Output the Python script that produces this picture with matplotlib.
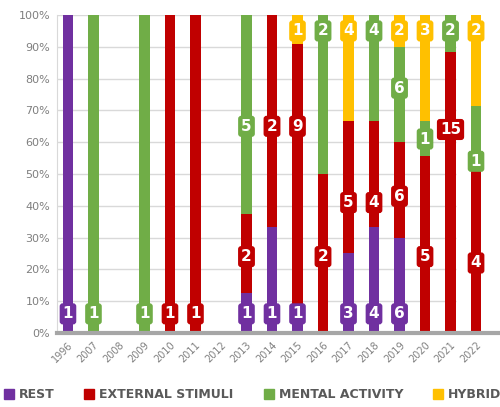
import matplotlib.pyplot as plt
import numpy as np
from matplotlib.patches import Patch

years = ['1996', '2007', '2008', '2009', '2010', '2011', '2012', '2013', '2014',
         '2015', '2016', '2017', '2018', '2019', '2020', '2021', '2022']
series = ['REST', 'EXTERNAL STIMULI', 'MENTAL ACTIVITY', 'HYBRID']
rest     = [1, 0, 0, 0, 0, 0, 0, 1, 1, 1, 0, 3, 4, 6, 0, 0, 0]
external = [0, 0, 0, 0, 1, 1, 0, 2, 2, 9, 2, 5, 4, 6, 5, 15, 4]
mental   = [0, 1, 0, 1, 0, 0, 0, 5, 0, 0, 2, 0, 4, 6, 1, 2, 1]
hybrid   = [0, 0, 0, 0, 0, 0, 0, 0, 0, 1, 0, 4, 0, 2, 3, 0, 2]
colors = ['#7030A0', '#C00000', '#70AD47', '#FFC000']

# where each data label sits on the 0-100% axis (None = no label)
label_pos = [
    [6, None, None, None, None, None, None, 6, 6, 6, None, 6, 6, 6, None, None, None],
    [None, None, None, None, 6, 6, None, 24, 65, 65, 24, 41, 41, 43, 24, 64, 22],
    [None, 6, None, 6, None, None, None, 65, None, None, 95, None, 95, 77, 61, 95, 54],
    [None, None, None, None, None, None, None, None, None, 95, None, 95, None, 95, 95, None, 95],
]

counts = np.array([rest, external, mental, hybrid], dtype=float)
totals = counts.sum(axis=0)
totals[totals == 0] = 1
shares = counts / totals * 100

fig = plt.figure(figsize=(5, 4.07), dpi=100)
ax = fig.add_axes([0.114, 0.182, 0.886, 0.781])

x = np.arange(len(years))
gridx_end = 15.2
for v in range(10, 101, 10):
    ax.hlines(v, -0.45, gridx_end, color='#d9d9d9', lw=1, zorder=0)

bottom = np.zeros(len(years))
for i, name in enumerate(series):
    ax.bar(x, shares[i], 0.4, bottom=bottom, color=colors[i], zorder=2)
    for j in range(len(years)):
        yp = label_pos[i][j]
        if yp is None or counts[i, j] == 0:
            continue
        ax.text(x[j], yp, str(int(counts[i, j])), ha='center', va='center',
                color='white', fontsize=11, fontweight='bold', zorder=3,
                bbox=dict(boxstyle='round,pad=0.2', fc=colors[i], ec='none'))
    bottom += shares[i]

ax.set_xlim(-0.43, 16.94)
ax.set_ylim(0, 100)
ax.set_yticks(range(0, 101, 10))
ax.set_yticklabels([f'{v}%' for v in range(0, 101, 10)], color='#7f7f7f', fontsize=8)
ax.set_xticks(x)
ax.set_xticklabels(years, rotation=45, ha='right', rotation_mode='anchor',
                   color='#7f7f7f', fontsize=7)
ax.tick_params(length=0, pad=5)
for s in ['top', 'right']:
    ax.spines[s].set_visible(False)
ax.spines['left'].set_color('#d9d9d9')
ax.spines['bottom'].set_color('#a6a6a6')
ax.spines['bottom'].set_linewidth(3)

handles = [Patch(color=c, label=n) for c, n in zip(colors, series)]
fig.legend(handles=handles, loc='center', bbox_to_anchor=(0.505, 0.03), ncol=4,
           frameon=False, handlelength=0.8, handleheight=0.8, handletextpad=0.4,
           columnspacing=2.4, prop={'size': 9, 'weight': 'bold'},
           labelcolor='#595959')

fig.savefig('out.png', dpi=100)
